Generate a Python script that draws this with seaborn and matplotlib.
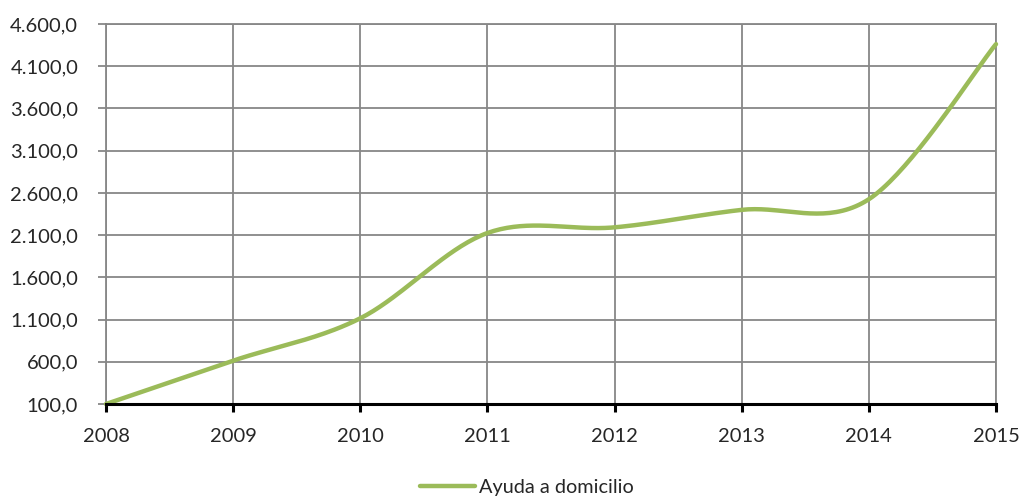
import matplotlib
matplotlib.use("Agg")
import matplotlib.pyplot as plt
import seaborn as sns
import numpy as np
import pandas as pd
from matplotlib.ticker import FuncFormatter

years = [2008, 2009, 2010, 2011, 2012, 2013, 2014, 2015]
ayuda_domicilio = [100, 613, 1115, 2125, 2192, 2399, 2525, 4362]
series_label = "Ayuda a domicilio"
y_ticks = [100, 600, 1100, 1600, 2100, 2600, 3100, 3600, 4100, 4600]

LINE_COLOR = "#9BBB59"
GRID_COLOR = "#878787"


def smooth_excel(x, y, n=40):
    # Catmull-Rom style bezier, like Excel's "smoothed line"
    pts = np.column_stack([x, y]).astype(float)
    p = np.vstack([pts[0], pts, pts[-1]])
    out = []
    t = np.linspace(0, 1, n)[:, None]
    for i in range(1, len(p) - 2):
        p0, p3 = p[i], p[i + 1]
        c1 = p0 + (p[i + 1] - p[i - 1]) / 6
        c2 = p3 - (p[i + 2] - p[i]) / 6
        seg = ((1 - t) ** 3) * p0 + 3 * ((1 - t) ** 2) * t * c1 + 3 * (1 - t) * t ** 2 * c2 + t ** 3 * p3
        out.append(seg if i == 1 else seg[1:])
    out = np.vstack(out)
    return out[:, 0], out[:, 1]


def fmt_es(v, pos):
    s = f"{v:,.1f}"
    return s.replace(",", "X").replace(".", ",").replace("X", ".")


sns.set_style("white")
plt.rcParams['font.family'] = ['Lato', 'DejaVu Sans']

fig = plt.figure(figsize=(10.25, 4.97), dpi=100)
ax = fig.add_axes([106 / 1025, (497 - 404) / 497, (996 - 106) / 1025, (404 - 24) / 497])

sx, sy = smooth_excel(years, ayuda_domicilio)
df = pd.DataFrame({"year": sx, "value": sy})
sns.lineplot(data=df, x="year", y="value", sort=False, ax=ax, color=LINE_COLOR,
             linewidth=3.2, label=series_label, zorder=5, clip_on=False)

ax.set_xlim(years[0], years[-1])
ax.set_ylim(y_ticks[0], y_ticks[-1])
ax.set_xticks(years)
ax.set_yticks(y_ticks)
ax.yaxis.set_major_formatter(FuncFormatter(fmt_es))
ax.set_xlabel("")
ax.set_ylabel("")

ax.grid(True, color=GRID_COLOR, linewidth=1.3)
ax.set_axisbelow(True)
for side in ["top", "left", "right"]:
    ax.spines[side].set_color(GRID_COLOR)
    ax.spines[side].set_linewidth(1.3)
ax.spines["bottom"].set_color("black")
ax.spines["bottom"].set_linewidth(2.2)
ax.spines["bottom"].set_zorder(6)

ax.tick_params(axis="y", length=6, width=1.3, color=GRID_COLOR, labelsize=14.5, pad=14, left=True)
ax.tick_params(axis="x", length=6, width=2.2, color="black", labelsize=14.5, pad=11, bottom=True)

ax.get_legend().remove()
fig.legend(loc="center", bbox_to_anchor=(527 / 1025, 1 - 487 / 497), frameon=False,
           fontsize=14.3, handlelength=2.75, handletextpad=0.2)

fig.savefig("out.png", dpi=100)
